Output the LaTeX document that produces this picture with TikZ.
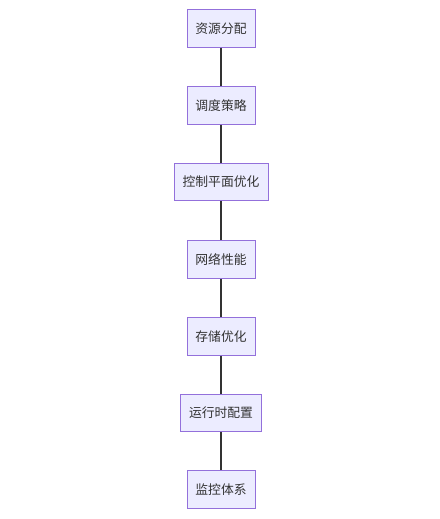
\documentclass[tikz,border=0pt]{standalone}
\usepackage{fontspec}
\setmainfont{Noto Sans CJK SC}
\definecolor{boxfill}{HTML}{ECECFF}
\definecolor{boxline}{HTML}{9370DB}
\definecolor{edge}{HTML}{333333}
\begin{document}
\begin{tikzpicture}[x=1pt,y=-1pt,
  box/.style={draw=boxline, fill=boxfill, line width=1pt, minimum height=37.5pt, inner xsep=0pt, font=\fontsize{12.8pt}{15pt}\selectfont, text=edge},
  link/.style={draw=edge, line width=1.6pt}]
\useasboundingbox (0,0) rectangle (439,519);
\node[box, minimum width=68pt] (a) at (221,28.5) {资源分配};
\node[box, minimum width=68pt] (b) at (221,105.5) {调度策略};
\node[box, minimum width=94pt] (c) at (221,182) {控制平面优化};
\node[box, minimum width=68pt] (d) at (221,259.5) {网络性能};
\node[box, minimum width=68pt] (e) at (221,336.5) {存储优化};
\node[box, minimum width=81pt] (f) at (221,413) {运行时配置};
\node[box, minimum width=68pt] (g) at (221,489.5) {监控体系};
\draw[link] (a) -- (b);
\draw[link] (b) -- (c);
\draw[link] (c) -- (d);
\draw[link] (d) -- (e);
\draw[link] (e) -- (f);
\draw[link] (f) -- (g);
\end{tikzpicture}
\end{document}
